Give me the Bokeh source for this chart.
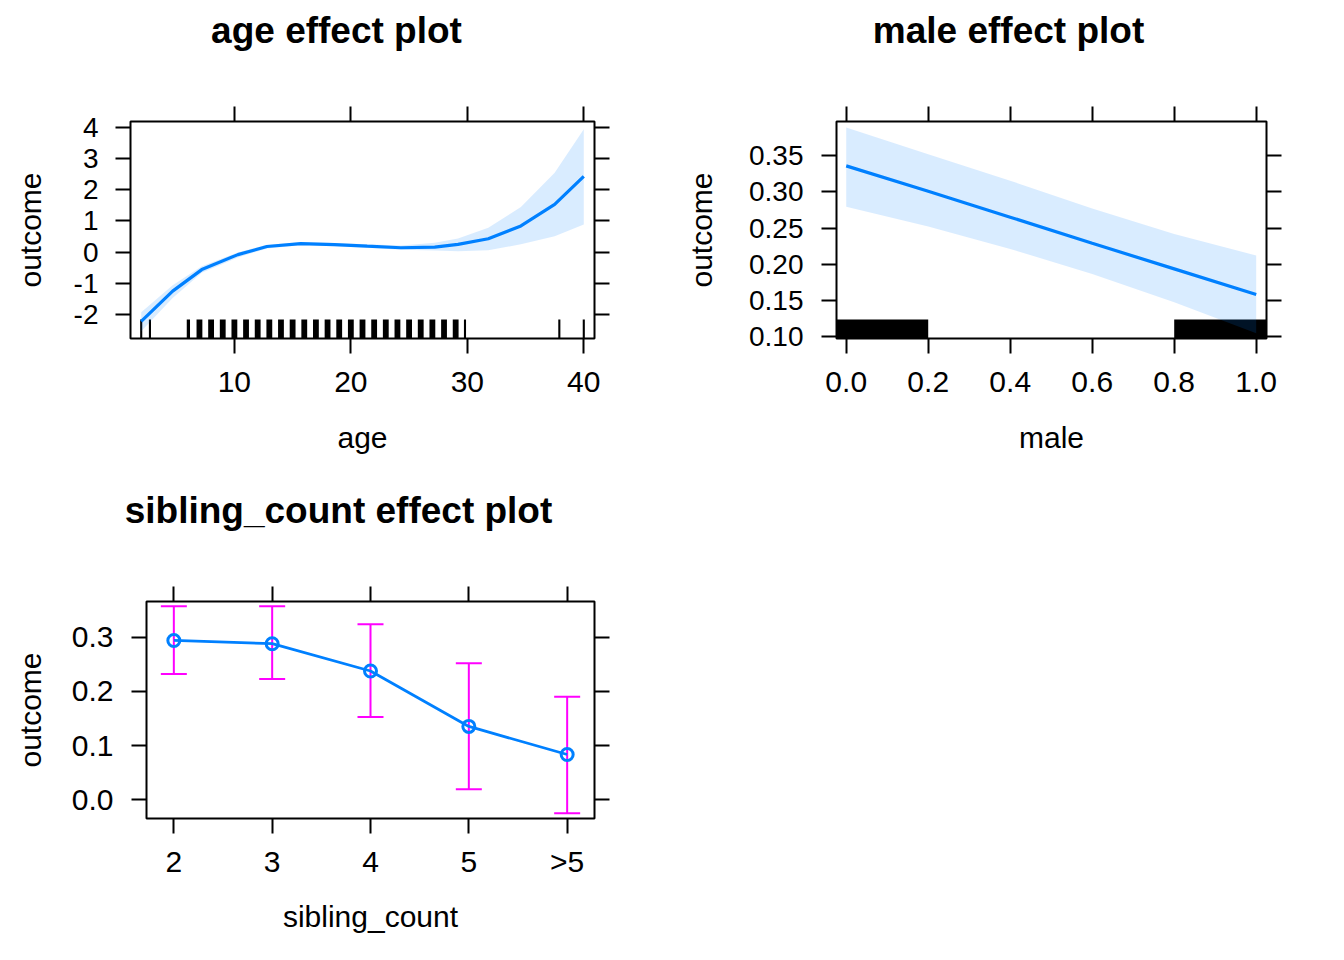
from bokeh.plotting import figure
from bokeh.models import (FixedTicker, LinearAxis, Range1d, PrintfTickFormatter,
                          CustomJSTickFormatter, CustomLabelingPolicy, Whisker, TeeHead,
                          ColumnDataSource)
from bokeh.core.properties import value
from bokeh.layouts import column, row
from bokeh.embed import file_html
from bokeh.resources import INLINE

FONT = "Liberation Sans"
BLUE = "#0080ff"
MAGENTA = "#ff00ff"

# ---------------- data ----------------
titles_top = ["age effect plot", "male effect plot"]
titles_bottom = ["sibling_count effect plot"]

age_x = [2, 4.7, 7.2, 10.3, 12.8, 15.7, 18.6, 21.4, 24.3, 27.2, 29.2, 31.8, 34.6, 37.5, 40]
age_fit = [-2.22, -1.25, -0.56, -0.08, 0.18, 0.27, 0.24, 0.19, 0.14, 0.16, 0.25, 0.43, 0.84, 1.53, 2.43]
age_upper = [-1.93, -1.06, -0.45, -0.01, 0.24, 0.32, 0.29, 0.25, 0.21, 0.30, 0.44, 0.78, 1.45, 2.55, 3.94]
age_lower = [-2.54, -1.47, -0.66, -0.17, 0.12, 0.22, 0.19, 0.14, 0.08, 0.05, 0.03, 0.06, 0.25, 0.51, 0.89]
age_rug = [2, 2.75, 6.05] + list(range(7, 30)) + [29.8, 37.9, 40]
age_rug_half = [0.09, 0.09, 0.14] + [0.25] * 23 + [0.09, 0.09, 0.09]
age_ticks = [10, 20, 30, 40]
age_yticks = [-2, -1, 0, 1, 2, 3, 4]

male_x = [0, 0.2, 0.4, 0.6, 0.8, 1.0]
male_fit = [0.336, 0.301, 0.265, 0.229, 0.1935, 0.158]
male_upper = [0.389, 0.352, 0.3155, 0.2772, 0.2418, 0.212]
male_lower = [0.2796, 0.252, 0.2211, 0.1866, 0.1474, 0.1045]
male_rug = [0, 1]
male_rug_half = [0.2, 0.2]
male_ticks = [0.0, 0.2, 0.4, 0.6, 0.8, 1.0]
male_yticks = [0.10, 0.15, 0.20, 0.25, 0.30, 0.35]

sib_cats = ["2", "3", "4", "5", ">5"]
sib_fit = [0.294, 0.288, 0.2377, 0.1354, 0.0836]
sib_upper = [0.357, 0.357, 0.324, 0.252, 0.190]
sib_lower = [0.232, 0.223, 0.153, 0.0196, -0.0247]
sib_yticks = [0.0, 0.1, 0.2, 0.3]


def title_strip(width, height, xs, ypos, texts):
    s = figure(width=width, height=height, output_backend="svg", toolbar_location=None,
               x_range=Range1d(0, width), y_range=Range1d(0, height),
               min_border_left=0, min_border_right=0, min_border_top=0, min_border_bottom=0,
               x_axis_location=None, y_axis_location=None)
    s.grid.visible = False
    s.outline_line_color = None
    s.background_fill_color = "white"
    s.border_fill_color = "white"
    s.text(x=xs, y=[ypos] * len(xs), text=texts,
           text_align="center", text_baseline="alphabetic",
           text_font=value(FONT), text_font_size=value("37px"),
           text_font_style="bold", text_color="black")
    return s


def make_fig(xlab, xr, yr, width, height, left, right, top, bottom):
    p = figure(width=width, height=height, output_backend="svg", toolbar_location=None,
               x_range=Range1d(*xr), y_range=Range1d(*yr),
               min_border_left=left, min_border_right=right,
               min_border_top=top, min_border_bottom=bottom,
               x_axis_label=xlab, y_axis_label="outcome")
    p.grid.visible = False
    p.outline_line_color = "black"
    p.outline_line_width = 2
    p.background_fill_color = "white"
    p.border_fill_color = "white"
    return p


def style_axes(p, xticks, yticks, xfmt, yfmt, ylabsize, xstand, ystand, xlstand, ylstand):
    for ax in p.axis:
        ax.axis_line_color = None
        ax.major_tick_out = 15
        ax.major_tick_in = 0
        ax.major_tick_line_width = 2
        ax.major_tick_line_color = "black"
        ax.minor_tick_line_color = None
        ax.major_label_text_font = FONT
        ax.major_label_text_color = "black"
        ax.axis_label_text_font = FONT
        ax.axis_label_text_font_size = "30px"
        ax.axis_label_text_font_style = "normal"
        ax.axis_label_text_color = "black"
    xa = p.xaxis[0]
    ya = p.yaxis[0]
    xa.ticker = FixedTicker(ticks=xticks)
    ya.ticker = FixedTicker(ticks=yticks)
    xa.formatter = xfmt
    ya.formatter = yfmt
    xa.major_label_text_font_size = "30px"
    ya.major_label_text_font_size = ylabsize
    xa.major_label_standoff = xstand
    ya.major_label_standoff = ystand
    xa.axis_label_standoff = xlstand
    ya.axis_label_standoff = ylstand
    for loc, tk in (("above", xticks), ("right", yticks)):
        ax = LinearAxis(ticker=FixedTicker(ticks=tk),
                        major_label_policy=CustomLabelingPolicy(
                            code="for (const i of indices) indices.unset(i)"),
                        axis_line_color=None, major_tick_out=15, major_tick_in=0,
                        major_tick_line_width=2, major_tick_line_color="black",
                        minor_tick_line_color=None, major_label_standoff=0)
        p.add_layout(ax, loc)


# ---------------- title strips ----------------
strip1 = title_strip(1336, 60, [336, 1008], 30, titles_top)
strip2 = title_strip(672, 60, [338], 30, titles_bottom)

# ---------------- age panel ----------------
a_xr = (1.08, 40.92)
a_yr = (-2.77, 4.19)
p1 = make_fig("age", a_xr, a_yr, 672, 420, 130, 78, 61, 142)
style_axes(p1, age_ticks, age_yticks, PrintfTickFormatter(format="%d"),
           PrintfTickFormatter(format="%d"), "28px", 18, 17, 26, 24)
rug_h1 = 0.61
p1.quad(left=[a - h for a, h in zip(age_rug, age_rug_half)],
        right=[a + h for a, h in zip(age_rug, age_rug_half)],
        bottom=a_yr[0], top=a_yr[0] + rug_h1, fill_color="black", line_color=None)
p1.varea(x=age_x, y1=age_lower, y2=age_upper, fill_color=BLUE, fill_alpha=0.15)
p1.line(age_x, age_fit, line_color=BLUE, line_width=3.2)

# ---------------- male panel ----------------
m_xr = (-0.0237, 1.0251)
m_yr = (0.0972, 0.3974)
p2 = make_fig("male", m_xr, m_yr, 664, 420, 164, 70, 61, 142)
style_axes(p2, male_ticks, male_yticks, PrintfTickFormatter(format="%.1f"),
           PrintfTickFormatter(format="%.2f"), "28px", 18, 18, 26, 28)
rug_h2 = 0.0262
p2.quad(left=[m - h for m, h in zip(male_rug, male_rug_half)],
        right=[m + h for m, h in zip(male_rug, male_rug_half)],
        bottom=m_yr[0], top=m_yr[0] + rug_h2, fill_color="black", line_color=None)
p2.varea(x=male_x, y1=male_lower, y2=male_upper, fill_color=BLUE, fill_alpha=0.15)
p2.line(male_x, male_fit, line_color=BLUE, line_width=3.2)

# ---------------- sibling_count panel ----------------
sib_pos = [i + 1 for i in range(len(sib_cats))]
s_xr = (0.722, 5.278)
s_yr = (-0.0345, 0.3659)
p3 = make_fig("sibling_count", s_xr, s_yr, 672, 412, 146, 78, 61, 134)
cat_fmt = CustomJSTickFormatter(args=dict(cats=sib_cats),
                                code="return cats[Math.round(tick) - 1]")
style_axes(p3, sib_pos, sib_yticks, cat_fmt, PrintfTickFormatter(format="%.1f"),
           "30px", 11, 18, 19, 22)
src = ColumnDataSource(dict(x=sib_pos, fit=sib_fit, lo=sib_lower, hi=sib_upper))
w = Whisker(base="x", upper="hi", lower="lo", source=src, dimension="height",
            line_color=MAGENTA, line_width=2,
            upper_head=TeeHead(size=26, line_color=MAGENTA, line_width=2),
            lower_head=TeeHead(size=26, line_color=MAGENTA, line_width=2))
p3.add_layout(w)
p3.line("x", "fit", source=src, line_color=BLUE, line_width=2.8)
p3.scatter("x", "fit", source=src, marker="circle", size=12, fill_color=None,
           line_color=BLUE, line_width=3)

layout = column(row(strip1), row(p1, p2), row(strip2), row(p3))
open("out.html", "w").write(file_html(layout, INLINE))
